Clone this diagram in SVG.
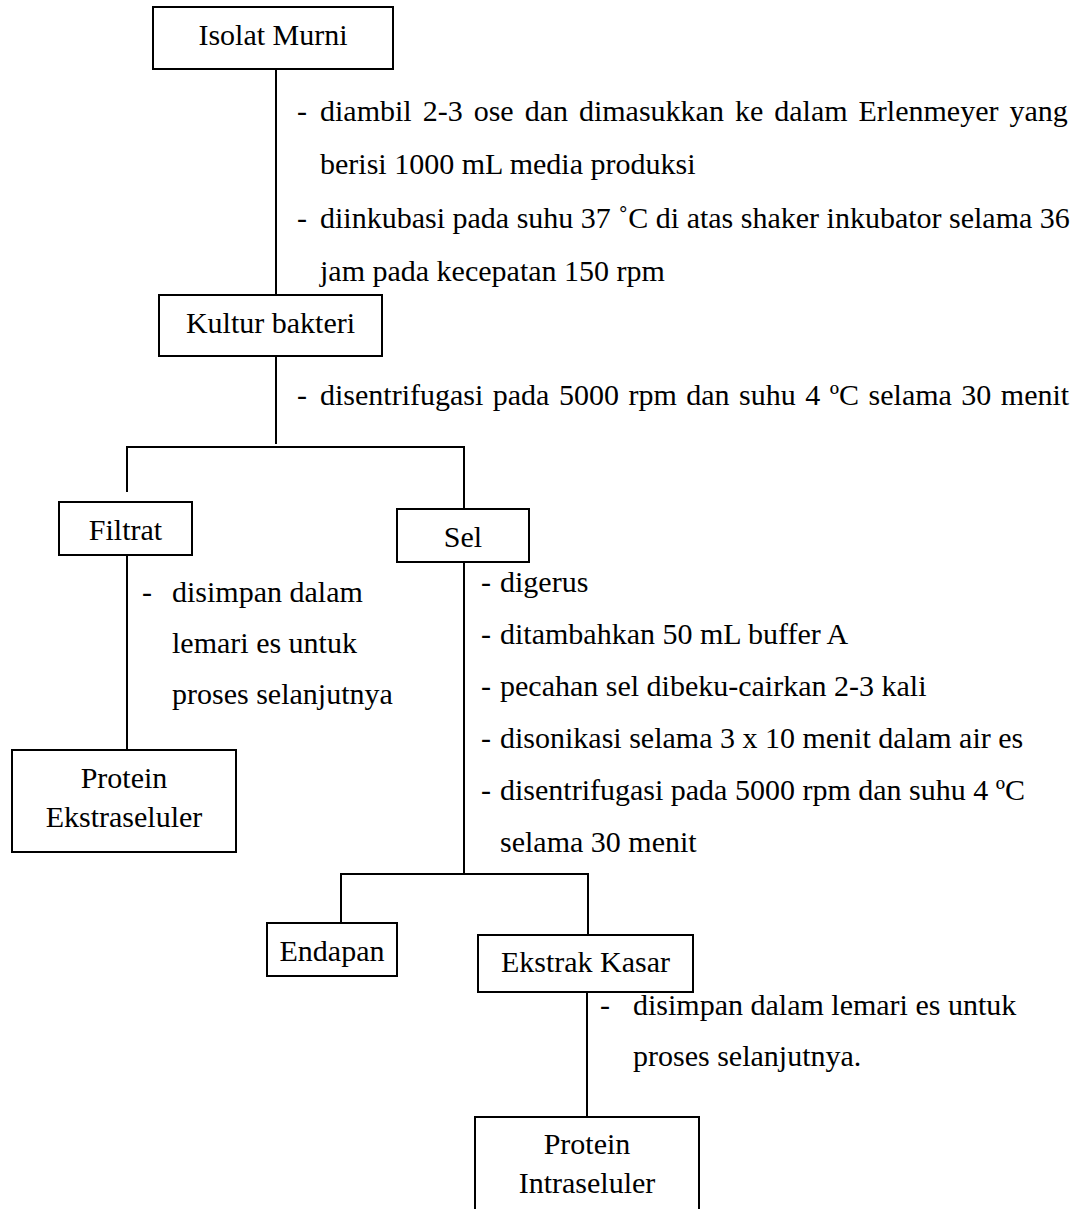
<svg xmlns="http://www.w3.org/2000/svg" width="1077" height="1209" viewBox="0 0 1077 1209">
<style>
.box{fill:#fff;stroke:#000;stroke-width:2}
.ln{fill:none;stroke:#000;stroke-width:2}
text{font-family:"Liberation Serif","Times New Roman",serif;font-size:30px;fill:#000}
.c{text-anchor:middle}
</style>
<rect width="1077" height="1209" fill="#fff"/>
<g id="connectors">
<path class="ln" d="M276 69V295"/>
<path class="ln" d="M276 356V444"/>
<path class="ln" d="M127 492V447H464V509"/>
<path class="ln" d="M127 555V750"/>
<path class="ln" d="M464 562V874"/>
<path class="ln" d="M341 923V874H588V935"/>
<path class="ln" d="M587 992V1117"/>
</g>
<g id="isolat-murni">
<rect class="box" x="153" y="7" width="240" height="62"/>
<text class="c" x="273" y="45">Isolat Murni</text>
</g>
<g id="note-1">
<text x="297" y="121">-</text>
<text x="320" y="121" word-spacing="3.5">diambil 2-3 ose dan dimasukkan ke dalam Erlenmeyer yang</text>
<text x="320" y="174">berisi 1000 mL media produksi</text>
<text x="297" y="228">-</text>
<text x="320" y="228">diinkubasi pada suhu 37 ˚C di atas shaker inkubator selama 36</text>
<text x="320" y="281">jam pada kecepatan 150 rpm</text>
</g>
<g id="kultur-bakteri">
<rect class="box" x="159" y="295" width="223" height="61"/>
<text class="c" x="270.5" y="333">Kultur bakteri</text>
</g>
<g id="note-2">
<text x="297" y="405">-</text>
<text x="320" y="405" word-spacing="2">disentrifugasi pada 5000 rpm dan suhu 4 ºC selama 30 menit</text>
</g>
<g id="filtrat">
<rect class="box" x="59" y="502" width="133" height="53"/>
<text class="c" x="125.5" y="540">Filtrat</text>
</g>
<g id="note-filtrat">
<text x="142" y="602">-</text>
<text x="172" y="602">disimpan dalam</text>
<text x="172" y="653">lemari es untuk</text>
<text x="172" y="704">proses selanjutnya</text>
</g>
<g id="protein-ekstraseluler">
<rect class="box" x="12" y="750" width="224" height="102"/>
<text class="c" x="124" y="788">Protein</text>
<text class="c" x="124" y="827">Ekstraseluler</text>
</g>
<g id="sel">
<rect class="box" x="397" y="509" width="132" height="53"/>
<text class="c" x="463" y="547">Sel</text>
</g>
<g id="note-sel">
<text x="481" y="592">-</text>
<text x="500" y="592">digerus</text>
<text x="481" y="644">-</text>
<text x="500" y="644">ditambahkan 50 mL buffer A</text>
<text x="481" y="696">-</text>
<text x="500" y="696">pecahan sel dibeku-cairkan 2-3 kali</text>
<text x="481" y="748">-</text>
<text x="500" y="748">disonikasi selama 3 x 10 menit dalam air es</text>
<text x="481" y="800">-</text>
<text x="500" y="800">disentrifugasi pada 5000 rpm dan suhu 4 ºC</text>
<text x="500" y="852">selama 30 menit</text>
</g>
<g id="endapan">
<rect class="box" x="267" y="923" width="130" height="53"/>
<text class="c" x="332" y="961">Endapan</text>
</g>
<g id="ekstrak-kasar">
<rect class="box" x="478" y="935" width="215" height="57"/>
<text class="c" x="585.5" y="972">Ekstrak Kasar</text>
</g>
<g id="note-ekstrak">
<text x="600" y="1015">-</text>
<text x="633" y="1015">disimpan dalam lemari es untuk</text>
<text x="633" y="1066">proses selanjutnya.</text>
</g>
<g id="protein-intraseluler">
<path class="box" d="M475 1215V1117H699V1215"/>
<text class="c" x="587" y="1154">Protein</text>
<text class="c" x="587" y="1193">Intraseluler</text>
</g>
</svg>
